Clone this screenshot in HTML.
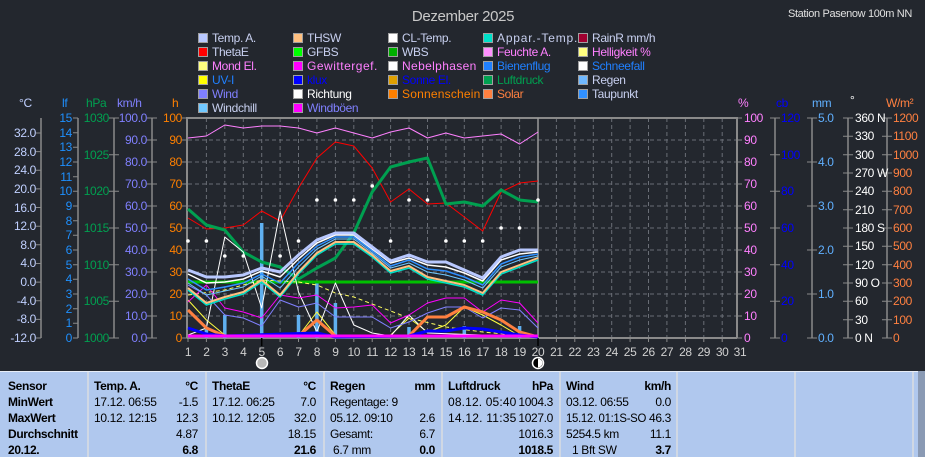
<!DOCTYPE html>
<html><head><meta charset="utf-8"><style>
html,body{margin:0;padding:0;background:#23272e;}
body{width:925px;height:457px;overflow:hidden;position:relative;font-family:"Liberation Sans",sans-serif;}
svg{position:absolute;left:0;top:0;}
svg text{letter-spacing:-0.35px;}
</style></head><body>
<svg width="925" height="457" viewBox="0 0 925 457" xmlns="http://www.w3.org/2000/svg" font-family="Liberation Sans, sans-serif">
<rect width="925" height="457" fill="#23272e"/>
<text x="463" y="21" font-size="15" fill="#c8c8c8" text-anchor="middle">Dezember 2025</text>
<text x="912" y="17" font-size="11" fill="#e0e0e0" text-anchor="end">Station Pasenow 100m NN</text>

<!-- legend -->
<g font-size="12">
<g stroke="#a0a0a0" stroke-width="1">
<rect x="198.5" y="33.5" width="9" height="9" fill="#b8c8ff"/><rect x="293.5" y="33.5" width="9" height="9" fill="#ffc080"/><rect x="388.5" y="33.5" width="9" height="9" fill="#fff"/><rect x="483.5" y="33.5" width="9" height="9" fill="#00e0c8"/><rect x="578.5" y="33.5" width="9" height="9" fill="#a00030"/>
<rect x="198.5" y="47.5" width="9" height="9" fill="#ff0000"/><rect x="293.5" y="47.5" width="9" height="9" fill="#00ff00"/><rect x="388.5" y="47.5" width="9" height="9" fill="#00b000"/><rect x="483.5" y="47.5" width="9" height="9" fill="#ff90ff"/><rect x="578.5" y="47.5" width="9" height="9" fill="#ffff80"/>
<rect x="198.5" y="61.5" width="9" height="9" fill="#ffff80"/><rect x="293.5" y="61.5" width="9" height="9" fill="#ff00ff"/><rect x="388.5" y="61.5" width="9" height="9" fill="#fff"/><rect x="483.5" y="61.5" width="9" height="9" fill="#2080ff"/><rect x="578.5" y="61.5" width="9" height="9" fill="#fff"/>
<rect x="198.5" y="75.5" width="9" height="9" fill="#ffff00"/><rect x="293.5" y="75.5" width="9" height="9" fill="#0000ff"/><rect x="388.5" y="75.5" width="9" height="9" fill="#e0a000"/><rect x="483.5" y="75.5" width="9" height="9" fill="#00a050"/><rect x="578.5" y="75.5" width="9" height="9" fill="#70b8ff"/>
<rect x="198.5" y="89.5" width="9" height="9" fill="#8080ff"/><rect x="293.5" y="89.5" width="9" height="9" fill="#fff"/><rect x="388.5" y="89.5" width="9" height="9" fill="#ff8000"/><rect x="483.5" y="89.5" width="9" height="9" fill="#ff8040"/><rect x="578.5" y="89.5" width="9" height="9" fill="#3090ff"/>
<rect x="198.5" y="103.5" width="9" height="9" fill="#70c8ff"/><rect x="293.5" y="103.5" width="9" height="9" fill="#ff00ff"/>
</g>
<text x="212" y="42" fill="#c8d0f0">Temp. A.</text><text x="307" y="42" fill="#c8d0f0">THSW</text><text x="402" y="42" fill="#c8d0f0">CL-Temp.</text><text x="497" y="42" fill="#c8d0f0" textLength="80">Appar.-Temp.</text><text x="592" y="42" fill="#c8d0f0">RainR mm/h</text>
<text x="212" y="56" fill="#c8d0f0">ThetaE</text><text x="307" y="56" fill="#c8d0f0">GFBS</text><text x="402" y="56" fill="#c8d0f0">WBS</text><text x="497" y="56" fill="#ff80ff">Feuchte A.</text><text x="592" y="56" fill="#ff80ff">Helligkeit %</text>
<text x="212" y="70" fill="#ff80ff">Mond El.</text><text x="307" y="70" fill="#ff80ff" textLength="70">Gewittergef.</text><text x="402" y="70" fill="#ff80ff" textLength="74">Nebelphasen</text><text x="497" y="70" fill="#2080ff">Bienenflug</text><text x="592" y="70" fill="#2080ff">Schneefall</text>
<text x="212" y="84" fill="#2080ff">UV-I</text><text x="307" y="84" fill="#0000ff">klux</text><text x="402" y="84" fill="#0000ff">Sonne El.</text><text x="497" y="84" fill="#00a050">Luftdruck</text><text x="592" y="84" fill="#c8d0f0">Regen</text>
<text x="212" y="98" fill="#8080ff">Wind</text><text x="307" y="98" fill="#ffffff">Richtung</text><text x="402" y="98" fill="#ff8000" textLength="78">Sonnenschein</text><text x="497" y="98" fill="#ff8040">Solar</text><text x="592" y="98" fill="#c8d0f0">Taupunkt</text>
<text x="212" y="112" fill="#c8d0f0">Windchill</text><text x="307" y="112" fill="#8080ff">Windböen</text>
</g>

<!-- axis headers -->
<g font-size="12">
<text x="19" y="107" fill="#c0d0ff">°C</text><text x="62" y="107" fill="#1e90ff">lf</text><text x="86" y="107" fill="#00a050">hPa</text><text x="117" y="107" fill="#8080ff">km/h</text><text x="172" y="107" fill="#ff8000">h</text>
<text x="738" y="107" fill="#ff80ff">%</text><text x="776" y="107" fill="#0000ff">cb</text><text x="812" y="107" fill="#60b0ff">mm</text><text x="850" y="104" fill="#fff">°</text><text x="886" y="107" fill="#ff8040">W/m²</text>
</g>

<!-- grid -->
<g stroke="#6a6e76" stroke-width="1" stroke-dasharray="4,3">
<line x1="188" y1="140" x2="737" y2="140"/><line x1="188" y1="162" x2="737" y2="162"/><line x1="188" y1="184" x2="737" y2="184"/><line x1="188" y1="206" x2="737" y2="206"/><line x1="188" y1="228" x2="737" y2="228"/><line x1="188" y1="250" x2="737" y2="250"/><line x1="188" y1="272" x2="737" y2="272"/><line x1="188" y1="294" x2="737" y2="294"/><line x1="188" y1="316" x2="737" y2="316"/>
<line x1="206.4" y1="118" x2="206.4" y2="338"/><line x1="224.8" y1="118" x2="224.8" y2="338"/><line x1="243.3" y1="118" x2="243.3" y2="338"/><line x1="261.7" y1="118" x2="261.7" y2="338"/><line x1="280.1" y1="118" x2="280.1" y2="338"/><line x1="298.5" y1="118" x2="298.5" y2="338"/><line x1="316.9" y1="118" x2="316.9" y2="338"/><line x1="335.4" y1="118" x2="335.4" y2="338"/><line x1="353.8" y1="118" x2="353.8" y2="338"/><line x1="372.2" y1="118" x2="372.2" y2="338"/><line x1="390.6" y1="118" x2="390.6" y2="338"/><line x1="409" y1="118" x2="409" y2="338"/><line x1="427.5" y1="118" x2="427.5" y2="338"/><line x1="445.9" y1="118" x2="445.9" y2="338"/><line x1="464.3" y1="118" x2="464.3" y2="338"/><line x1="482.7" y1="118" x2="482.7" y2="338"/><line x1="501.1" y1="118" x2="501.1" y2="338"/><line x1="519.6" y1="118" x2="519.6" y2="338"/><line x1="556.4" y1="118" x2="556.4" y2="338"/><line x1="574.8" y1="118" x2="574.8" y2="338"/><line x1="593.3" y1="118" x2="593.3" y2="338"/><line x1="611.7" y1="118" x2="611.7" y2="338"/><line x1="630.1" y1="118" x2="630.1" y2="338"/><line x1="648.5" y1="118" x2="648.5" y2="338"/><line x1="666.9" y1="118" x2="666.9" y2="338"/><line x1="685.4" y1="118" x2="685.4" y2="338"/><line x1="703.8" y1="118" x2="703.8" y2="338"/><line x1="722.2" y1="118" x2="722.2" y2="338"/>
</g>
<g stroke="#8a8a8a" stroke-width="2" fill="none">
<polyline points="187,338 187,118 737,118 737,338"/>
<line x1="187" y1="338" x2="737" y2="338"/>
</g>
<line x1="538" y1="118" x2="538" y2="338" stroke="#9a9a9a" stroke-width="1.5"/>
<!-- x ticks -->
<g stroke="#8a8a8a"><line x1="188" y1="338" x2="188" y2="342"/><line x1="206.4" y1="338" x2="206.4" y2="342"/><line x1="224.8" y1="338" x2="224.8" y2="342"/><line x1="243.3" y1="338" x2="243.3" y2="342"/><line x1="280.1" y1="338" x2="280.1" y2="342"/><line x1="298.5" y1="338" x2="298.5" y2="342"/><line x1="316.9" y1="338" x2="316.9" y2="342"/><line x1="335.4" y1="338" x2="335.4" y2="342"/><line x1="353.8" y1="338" x2="353.8" y2="342"/><line x1="372.2" y1="338" x2="372.2" y2="342"/><line x1="390.6" y1="338" x2="390.6" y2="342"/><line x1="409" y1="338" x2="409" y2="342"/><line x1="427.5" y1="338" x2="427.5" y2="342"/><line x1="445.9" y1="338" x2="445.9" y2="342"/><line x1="464.3" y1="338" x2="464.3" y2="342"/><line x1="482.7" y1="338" x2="482.7" y2="342"/><line x1="501.1" y1="338" x2="501.1" y2="342"/><line x1="519.6" y1="338" x2="519.6" y2="342"/><line x1="556.4" y1="338" x2="556.4" y2="342"/><line x1="574.8" y1="338" x2="574.8" y2="342"/><line x1="593.3" y1="338" x2="593.3" y2="342"/><line x1="611.7" y1="338" x2="611.7" y2="342"/><line x1="630.1" y1="338" x2="630.1" y2="342"/><line x1="648.5" y1="338" x2="648.5" y2="342"/><line x1="666.9" y1="338" x2="666.9" y2="342"/><line x1="685.4" y1="338" x2="685.4" y2="342"/><line x1="703.8" y1="338" x2="703.8" y2="342"/><line x1="722.2" y1="338" x2="722.2" y2="342"/></g>
<g stroke="#000" stroke-width="1.5"><line x1="261.7" y1="338" x2="261.7" y2="346"/><line x1="538" y1="338" x2="538" y2="346"/></g>
<g font-size="12" fill="#d0d0d0" text-anchor="middle">
<text x="188" y="356">1</text><text x="206.4" y="356">2</text><text x="224.8" y="356">3</text><text x="243.3" y="356">4</text><text x="261.7" y="356">5</text><text x="280.1" y="356">6</text><text x="298.5" y="356">7</text><text x="316.9" y="356">8</text><text x="335.4" y="356">9</text><text x="353.8" y="356">10</text><text x="372.2" y="356">11</text><text x="390.6" y="356">12</text><text x="409" y="356">13</text><text x="427.5" y="356">14</text><text x="445.9" y="356">15</text><text x="464.3" y="356">16</text><text x="482.7" y="356">17</text><text x="501.1" y="356">18</text><text x="519.6" y="356">19</text><text x="538" y="356">20</text><text x="556.4" y="356">21</text><text x="574.8" y="356">22</text><text x="593.3" y="356">23</text><text x="611.7" y="356">24</text><text x="630.1" y="356">25</text><text x="648.5" y="356">26</text><text x="666.9" y="356">27</text><text x="685.4" y="356">28</text><text x="703.8" y="356">29</text><text x="722.2" y="356">30</text><text x="740" y="356">31</text>
</g>
<circle cx="262" cy="363" r="5.5" fill="#b8b8b8" stroke="#fff" stroke-width="1.5"/>
<circle cx="538" cy="363" r="5.5" fill="#000" stroke="#fff" stroke-width="1.5"/>
<path d="M538 358.5 A4.5 4.5 0 0 1 538 367.5 Z" fill="#fff"/>

<!-- axes -->
<g stroke="#8a8a8a" stroke-width="1.5">
<line x1="41" y1="118" x2="41" y2="338"/><line x1="78" y1="118" x2="78" y2="338"/><line x1="114" y1="118" x2="114" y2="338"/><line x1="152" y1="118" x2="152" y2="338"/>
<line x1="775" y1="118" x2="775" y2="338"/><line x1="812" y1="118" x2="812" y2="338"/><line x1="848" y1="118" x2="848" y2="338"/><line x1="887" y1="118" x2="887" y2="338"/>
</g>
<g stroke="#8a8a8a" stroke-width="1">
<path d="M36 133h5M36 151.6h5M36 170.3h5M36 188.9h5M36 207.5h5M36 226.2h5M36 244.8h5M36 263.5h5M36 282.1h5M36 300.7h5M36 319.4h5M36 338h5"/>
<path d="M73 118h5M73 132.7h5M73 147.3h5M73 162h5M73 176.7h5M73 191.3h5M73 206h5M73 220.7h5M73 235.3h5M73 250h5M73 264.7h5M73 279.3h5M73 294h5M73 308.7h5M73 323.3h5M73 338h5"/>
<path d="M109 118h10M109 154.7h10M109 191.3h10M109 228h10M109 264.7h10M109 301.3h10M109 338h10"/>
<path d="M147 118h10M147 140h10M147 162h10M147 184h10M147 206h10M147 228h10M147 250h10M147 272h10M147 294h10M147 316h10M147 338h10"/>
<path d="M182 118h5M182 140h5M182 162h5M182 184h5M182 206h5M182 228h5M182 250h5M182 272h5M182 294h5M182 316h5M182 338h5"/>
<path d="M737 118h5M737 140h5M737 162h5M737 184h5M737 206h5M737 228h5M737 250h5M737 272h5M737 294h5M737 316h5M737 338h5"/>
<path d="M770 118h10M770 154.7h10M770 191.3h10M770 228h10M770 264.7h10M770 301.3h10M770 338h10"/>
<path d="M807 118h10M807 162h10M807 206h10M807 250h10M807 294h10M807 338h10"/>
<path d="M843 118h10M843 136.3h10M843 154.7h10M843 173h10M843 191.3h10M843 209.7h10M843 228h10M843 246.3h10M843 264.7h10M843 283h10M843 301.3h10M843 319.7h10M843 338h10"/>
<path d="M882 118h10M882 136.3h10M882 154.7h10M882 173h10M882 191.3h10M882 209.7h10M882 228h10M882 246.3h10M882 264.7h10M882 283h10M882 301.3h10M882 319.7h10M882 338h10"/>
</g>
<g font-size="12" text-anchor="end">
<g fill="#c0d0ff"><text x="36" y="137">32.0</text><text x="36" y="156">28.0</text><text x="36" y="174">24.0</text><text x="36" y="193">20.0</text><text x="36" y="212">16.0</text><text x="36" y="230">12.0</text><text x="36" y="249">8.0</text><text x="36" y="267">4.0</text><text x="36" y="286">0.0</text><text x="36" y="305">-4.0</text><text x="36" y="323">-8.0</text><text x="36" y="342">-12.0</text></g>
<g fill="#1e90ff"><text x="72" y="122">15</text><text x="72" y="137">14</text><text x="72" y="151">13</text><text x="72" y="166">12</text><text x="72" y="181">11</text><text x="72" y="195">10</text><text x="72" y="210">9</text><text x="72" y="225">8</text><text x="72" y="239">7</text><text x="72" y="254">6</text><text x="72" y="269">5</text><text x="72" y="283">4</text><text x="72" y="298">3</text><text x="72" y="313">2</text><text x="72" y="327">1</text><text x="72" y="342">0</text></g>
<g fill="#00a050"><text x="109" y="122">1030</text><text x="109" y="159">1025</text><text x="109" y="195">1020</text><text x="109" y="232">1015</text><text x="109" y="269">1010</text><text x="109" y="305">1005</text><text x="109" y="342">1000</text></g>
<g fill="#8080ff"><text x="147" y="122">100.0</text><text x="147" y="144">90.0</text><text x="147" y="166">80.0</text><text x="147" y="188">70.0</text><text x="147" y="210">60.0</text><text x="147" y="232">50.0</text><text x="147" y="254">40.0</text><text x="147" y="276">30.0</text><text x="147" y="298">20.0</text><text x="147" y="320">10.0</text><text x="147" y="342">0.0</text></g>
<g fill="#ff8000"><text x="182" y="122">100</text><text x="182" y="144">90</text><text x="182" y="166">80</text><text x="182" y="188">70</text><text x="182" y="210">60</text><text x="182" y="232">50</text><text x="182" y="254">40</text><text x="182" y="276">30</text><text x="182" y="298">20</text><text x="182" y="320">10</text><text x="182" y="342">0</text></g>
</g>
<g font-size="12">
<g fill="#ff80ff"><text x="744" y="122">100</text><text x="744" y="144">90</text><text x="744" y="166">80</text><text x="744" y="188">70</text><text x="744" y="210">60</text><text x="744" y="232">50</text><text x="744" y="254">40</text><text x="744" y="276">30</text><text x="744" y="298">20</text><text x="744" y="320">10</text><text x="744" y="342">0</text></g>
<g fill="#0000ff"><text x="781" y="122">120</text><text x="781" y="159">100</text><text x="781" y="195">80</text><text x="781" y="232">60</text><text x="781" y="269">40</text><text x="781" y="305">20</text><text x="781" y="342">0</text></g>
<g fill="#60b0ff"><text x="818" y="122">5.0</text><text x="818" y="166">4.0</text><text x="818" y="210">3.0</text><text x="818" y="254">2.0</text><text x="818" y="298">1.0</text><text x="818" y="342">0.0</text></g>
<g fill="#ffffff"><text x="855" y="122">360 N</text><text x="855" y="140">330</text><text x="855" y="159">300</text><text x="855" y="177">270 W</text><text x="855" y="195">240</text><text x="855" y="214">210</text><text x="855" y="232">180 S</text><text x="855" y="250">150</text><text x="855" y="269">120</text><text x="855" y="287">90  O</text><text x="855" y="305">60</text><text x="855" y="324">30</text><text x="855" y="342">0   N</text></g>
<g fill="#ff8040"><text x="893" y="122">1200</text><text x="893" y="140">1100</text><text x="893" y="159">1000</text><text x="893" y="177">900</text><text x="893" y="195">800</text><text x="893" y="214">700</text><text x="893" y="232">600</text><text x="893" y="250">500</text><text x="893" y="269">400</text><text x="893" y="287">300</text><text x="893" y="305">200</text><text x="893" y="324">100</text><text x="893" y="342">0</text></g>
</g>

<!-- series -->
<g fill="none" stroke-linejoin="round">
<g stroke="#60b0f0" stroke-width="3.5"><line x1="206.4" y1="338" x2="206.4" y2="327"/><line x1="224.8" y1="338" x2="224.8" y2="315"/><line x1="261.7" y1="338" x2="261.7" y2="223"/><line x1="298.5" y1="338" x2="298.5" y2="315"/><line x1="316.9" y1="338" x2="316.9" y2="282"/><line x1="335.4" y1="338" x2="335.4" y2="303"/><line x1="409" y1="338" x2="409" y2="327"/><line x1="464.3" y1="338" x2="464.3" y2="326"/><line x1="519.6" y1="338" x2="519.6" y2="326"/></g>
<polyline stroke="#ff80ff" stroke-width="1" points="188,138 206.4,136 224.8,125 243.3,128 261.7,126 280.1,126 298.5,128 316.9,133 335.4,128 353.8,133 372.2,138 390.6,132 409,128 427.5,138 445.9,133 464.3,138 482.7,136 501.1,134 519.6,144 538,132"/>
<polyline stroke="#ff0000" stroke-width="1" points="188,218 206.4,229 224.8,228 243.3,225 261.7,211 280.1,221 298.5,188 316.9,158 335.4,142 353.8,146 372.2,168 390.6,202 409,189 427.5,204 445.9,203 464.3,217 482.7,231 501.1,192 519.6,183 538,181"/>
<polyline stroke="#00a050" stroke-width="3" points="188,209 206.4,225 224.8,230 243.3,252 261.7,262 280.1,267 298.5,279 316.9,268 335.4,258 353.8,233 372.2,192 390.6,167 409,162 427.5,158 445.9,204 464.3,202 482.7,206 501.1,190 519.6,200 538,202"/>
<line x1="188" y1="282" x2="538" y2="282" stroke="#00c000" stroke-width="3"/>
<polyline stroke="#ffff60" stroke-width="1" stroke-dasharray="4,3" points="188,295 224.8,290 261.7,280 298.5,282 316.9,285 335.4,293 353.8,297 409,318 445.9,327 482.7,332 538,337"/>
<polyline stroke="#ffff40" stroke-width="1" points="188,300 206.4,320 224.8,335 261.7,336 298.5,336 316.9,312 335.4,335 390.6,335 409,318 427.5,332 445.9,325 464.3,307 482.7,315 501.1,325 519.6,336 538,337"/>
<polyline stroke="#ffffff" stroke-width="1" points="188,335 206.4,328 224.8,237 243.3,252 261.7,308 280.1,211 298.5,292 316.9,332 335.4,283 353.8,325 372.2,333 390.6,336 409,315 427.5,333 538,337"/>
<polyline stroke="#ff00ff" stroke-width="1" points="188,302 206.4,285 224.8,308 243.3,312 261.7,318 280.1,295 298.5,298 316.9,295 335.4,308 353.8,307 372.2,305 390.6,323 409,315 427.5,303 445.9,298 464.3,298 482.7,312 501.1,300 519.6,303 538,323"/>
<polyline stroke="#8080ff" stroke-width="1" points="188,285 206.4,295 224.8,315 243.3,318 261.7,326 280.1,300 298.5,307 316.9,303 335.4,317 353.8,317 372.2,317 390.6,328 409,322 427.5,313 445.9,307 464.3,307 482.7,318 501.1,308 519.6,310 538,328"/>
<polyline stroke="#ff8040" stroke-width="3" points="188,310 206.4,328 224.8,336 298.5,336 316.9,320 335.4,336 409,336 427.5,317 445.9,317 464.3,307 482.7,312 501.1,320 519.6,332 538,337"/>
<polyline stroke="#0000ff" stroke-width="3" points="188,328 206.4,334 224.8,336 316.9,333 335.4,337 409,336 427.5,331 445.9,331 464.3,328 482.7,329 501.1,332 519.6,335 538,337"/>
<line x1="188" y1="336" x2="538" y2="336" stroke="#ff00ff" stroke-width="3"/>
<polyline stroke="#00e0c8" stroke-width="1.5" points="188,290 206.4,305 224.8,299 243.3,294 261.7,282 280.1,297 298.5,274 316.9,255 335.4,244 353.8,244 372.2,257 390.6,273 409,268 427.5,279 445.9,283 464.3,287 482.7,295 501.1,274 519.6,267 538,260"/>
<polyline stroke="#ffc080" stroke-width="2" points="188,288 206.4,303 224.8,297 243.3,292 261.7,280 280.1,295 298.5,272 316.9,253 335.4,242 353.8,242 372.2,255 390.6,271 409,266 427.5,277 445.9,281 464.3,285 482.7,293 501.1,272 519.6,265 538,258"/>
<polyline stroke="#70c8ff" stroke-width="1" points="188,283 206.4,295 224.8,291 243.3,287 261.7,276 280.1,288 298.5,267 316.9,249 335.4,239 353.8,239 372.2,253 390.6,268 409,263 427.5,272 445.9,275 464.3,280 482.7,288 501.1,267 519.6,260 538,256"/>
<polyline stroke="#3090ff" stroke-width="1.5" points="188,279 206.4,290 224.8,287 243.3,283 261.7,274 280.1,283 298.5,263 316.9,246 335.4,237 353.8,237 372.2,251 390.6,266 409,260 427.5,269 445.9,271 464.3,277 482.7,285 501.1,264 519.6,257 538,254"/>
<polyline stroke="#ffffff" stroke-width="1.5" points="188,274 206.4,283 224.8,282 243.3,279 261.7,271 280.1,277 298.5,259 316.9,243 335.4,235 353.8,235 372.2,249 390.6,263 409,258 427.5,265 445.9,267 464.3,273 482.7,281 501.1,260 519.6,254 538,252"/>
<polyline stroke="#b8c8ff" stroke-width="3" points="188,270 206.4,277 224.8,277 243.3,275 261.7,268 280.1,272 298.5,255 316.9,240 335.4,233 353.8,233 372.2,247 390.6,261 409,255 427.5,262 445.9,262 464.3,270 482.7,278 501.1,257 519.6,250 538,250"/>
</g>
<g fill="#ffffff">
<circle cx="188" cy="241" r="1.8"/><circle cx="206.4" cy="241" r="1.8"/><circle cx="298.5" cy="241" r="1.8"/><circle cx="390.6" cy="241" r="1.8"/><circle cx="445.9" cy="241" r="1.8"/><circle cx="464.3" cy="241" r="1.8"/><circle cx="482.7" cy="241" r="1.8"/>
<circle cx="316.9" cy="200" r="1.8"/><circle cx="335.4" cy="200" r="1.8"/><circle cx="353.8" cy="200" r="1.8"/><circle cx="409" cy="200" r="1.8"/><circle cx="427.5" cy="200" r="1.8"/><circle cx="538" cy="200" r="1.8"/>
<circle cx="372.2" cy="186" r="1.8"/><circle cx="501.1" cy="228" r="1.8"/><circle cx="519.6" cy="228" r="1.8"/>
<circle cx="224.8" cy="256" r="1.8"/><circle cx="243.3" cy="256" r="1.8"/><circle cx="280.1" cy="256" r="1.8"/>
</g>

<!-- table -->
<rect x="0" y="371" width="925" height="86" fill="#b0c8ee"/>
<line x1="0" y1="371.5" x2="925" y2="371.5" stroke="#e8eef8" stroke-width="1"/>
<g stroke="#d0d8e4" stroke-width="2">
<line x1="88" y1="372" x2="88" y2="457"/><line x1="206" y1="372" x2="206" y2="457"/><line x1="324" y1="372" x2="324" y2="457"/><line x1="442" y1="372" x2="442" y2="457"/><line x1="560" y1="372" x2="560" y2="457"/><line x1="677" y1="372" x2="677" y2="457"/><line x1="795" y1="372" x2="795" y2="457"/><line x1="913" y1="372" x2="913" y2="457"/>
</g>
<rect x="918" y="371" width="7" height="86" fill="#8a9ab4"/>
<g font-size="12" fill="#000">
<g font-weight="bold"><text x="8" y="390">Sensor</text><text x="8" y="406">MinWert</text><text x="8" y="422">MaxWert</text><text x="8" y="438">Durchschnitt</text><text x="8" y="454">20.12.</text>
<text x="94" y="390">Temp. A.</text><text x="198" y="390" text-anchor="end">°C</text>
<text x="212" y="390">ThetaE</text><text x="316" y="390" text-anchor="end">°C</text>
<text x="330" y="390">Regen</text><text x="435" y="390" text-anchor="end">mm</text>
<text x="448" y="390">Luftdruck</text><text x="553" y="390" text-anchor="end">hPa</text>
<text x="566" y="390">Wind</text><text x="671" y="390" text-anchor="end">km/h</text>
<text x="198" y="454" text-anchor="end">6.8</text><text x="316" y="454" text-anchor="end">21.6</text><text x="435" y="454" text-anchor="end">0.0</text><text x="553" y="454" text-anchor="end">1018.5</text><text x="671" y="454" text-anchor="end">3.7</text></g>
<text x="94" y="406">17.12.  06:55</text><text x="198" y="406" text-anchor="end">-1.5</text>
<text x="94" y="422">10.12.  12:15</text><text x="198" y="422" text-anchor="end">12.3</text>
<text x="198" y="438" text-anchor="end">4.87</text>
<text x="212" y="406">17.12.  06:25</text><text x="316" y="406" text-anchor="end">7.0</text>
<text x="212" y="422">10.12.  12:05</text><text x="316" y="422" text-anchor="end">32.0</text>
<text x="316" y="438" text-anchor="end">18.15</text>
<text x="330" y="406">Regentage: 9</text>
<text x="330" y="422">05.12.  09:10</text><text x="435" y="422" text-anchor="end">2.6</text>
<text x="330" y="438">Gesamt:</text><text x="435" y="438" text-anchor="end">6.7</text>
<text x="333" y="454">6.7 mm</text>
<text x="448" y="406" textLength="68">08.12.  05:40</text><text x="553" y="406" text-anchor="end">1004.3</text>
<text x="448" y="422" textLength="68">14.12.  11:35</text><text x="553" y="422" text-anchor="end">1027.0</text>
<text x="553" y="438" text-anchor="end">1016.3</text>
<text x="566" y="406">03.12.  06:55</text><text x="671" y="406" text-anchor="end">0.0</text>
<text x="566" y="422" textLength="80" lengthAdjust="spacingAndGlyphs">15.12.  01:1S-SO</text><text x="671" y="422" text-anchor="end">46.3</text>
<text x="566" y="438">5254.5 km</text><text x="671" y="438" text-anchor="end">11.1</text>
<text x="572" y="454">1 Bft SW</text>
</g>
</svg>
</body></html>
